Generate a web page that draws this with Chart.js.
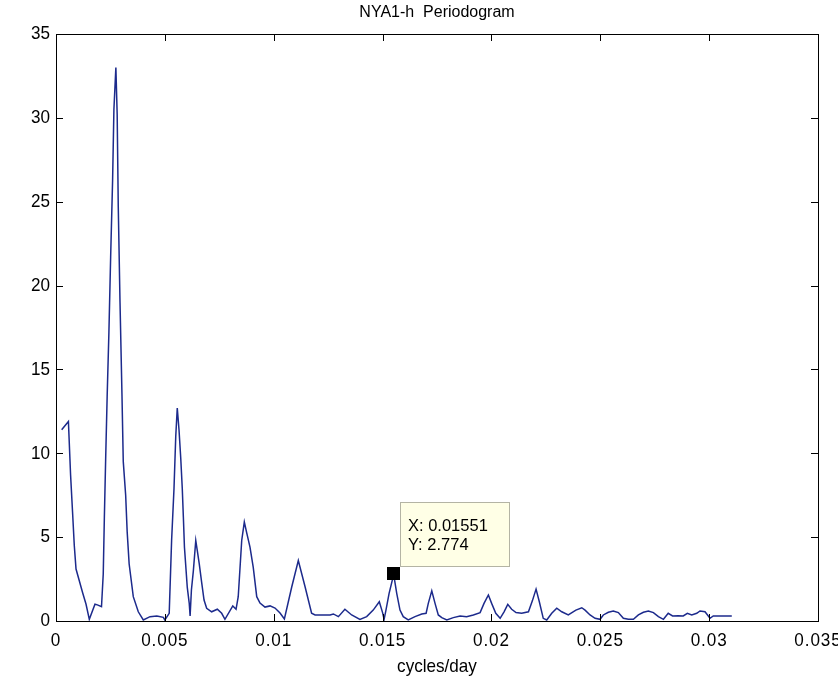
<!DOCTYPE html>
<html>
<head>
<meta charset="utf-8">
<script src="https://cdn.jsdelivr.net/npm/chart.js@4.4.1/dist/chart.umd.min.js"></script>
<style>
  html, body { margin: 0; padding: 0; background: #fff; }
  #wrap { width: 838px; height: 685px; }
</style>
</head>
<body>
<div id="wrap"><canvas id="periodogram" width="838" height="685"></canvas></div>
<script>
// NYA1-h periodogram: power against frequency (cycles/day)
const freq = [
  0.00026, 0.00057, 0.00067, 0.00076, 0.00084, 0.00092, 0.00107, 0.00122, 0.00138, 0.00153,
  0.00179, 0.00190, 0.00209, 0.00217, 0.00222, 0.00228, 0.00235, 0.00243, 0.00251, 0.00260,
  0.00266, 0.00275, 0.00281, 0.00286, 0.00294, 0.00303, 0.00309, 0.00320, 0.00327, 0.00336,
  0.00355, 0.00378, 0.00401, 0.00432, 0.00463, 0.00493, 0.00500, 0.00520, 0.00531, 0.00542,
  0.00550, 0.00557, 0.00565, 0.00573, 0.00580, 0.00585, 0.00590, 0.00603, 0.00612, 0.00616,
  0.00622, 0.00631, 0.00642, 0.00649, 0.00658, 0.00669, 0.00680, 0.00692, 0.00715, 0.00741,
  0.00761, 0.00776, 0.00812, 0.00827, 0.00837, 0.00853, 0.00865, 0.00876, 0.00891, 0.00906,
  0.00922, 0.00937, 0.00960, 0.00983, 0.01006, 0.01029, 0.01049, 0.01083, 0.01113, 0.01144,
  0.01174, 0.01190, 0.01259, 0.01274, 0.01297, 0.01327, 0.01358, 0.01396, 0.01427, 0.01457,
  0.01485, 0.01500, 0.01507, 0.01514, 0.01530, 0.01551, 0.01565, 0.01580, 0.01595, 0.01618,
  0.01649, 0.01680, 0.01700, 0.01710, 0.01726, 0.01741, 0.01756, 0.01772, 0.01795, 0.01825,
  0.01856, 0.01886, 0.01917, 0.01948, 0.01966, 0.01986, 0.02001, 0.02020, 0.02040, 0.02058,
  0.02075, 0.02093, 0.02113, 0.02139, 0.02170, 0.02188, 0.02205, 0.02220, 0.02238, 0.02254,
  0.02277, 0.02300, 0.02323, 0.02353, 0.02388, 0.02415, 0.02430, 0.02453, 0.02476, 0.02499,
  0.02514, 0.02537, 0.02560, 0.02583, 0.02606, 0.02629, 0.02652, 0.02675, 0.02698, 0.02721,
  0.02744, 0.02767, 0.02790, 0.02812, 0.02832, 0.02858, 0.02881, 0.02900, 0.02920, 0.02943,
  0.02958, 0.02981, 0.03004, 0.03019, 0.03104
];
const power = [
  11.4, 11.9, 8.7, 6.5, 4.5, 3.1, 2.4, 1.7, 1.0, 0.1,
  1.0, 0.96, 0.85, 2.8, 6.1, 9.6, 13.4, 17.2, 21.7, 26.3,
  30.5, 33.0, 30.2, 24.7, 19.0, 13.5, 9.5, 7.5, 5.3, 3.4,
  1.45, 0.55, 0.06, 0.26, 0.3, 0.22, 0.06, 0.46, 4.8, 7.9,
  11.0, 12.7, 11.4, 9.7, 7.9, 6.2, 4.4, 2.0, 1.05, 0.3,
  1.85, 3.0, 4.8, 4.2, 3.4, 2.3, 1.25, 0.76, 0.55, 0.7,
  0.46, 0.1, 0.9, 0.7, 1.45, 4.8, 5.9, 5.25, 4.4, 3.2,
  1.45, 1.07, 0.83, 0.9, 0.77, 0.48, 0.12, 2.04, 3.6, 2.04,
  0.46, 0.36, 0.36, 0.42, 0.26, 0.7, 0.36, 0.1, 0.26, 0.65,
  1.15, 0.5, 0.1, 0.55, 1.65, 2.774, 1.65, 0.65, 0.26, 0.06,
  0.26, 0.42, 0.46, 1.05, 1.8, 1.05, 0.36, 0.2, 0.06, 0.2,
  0.3, 0.26, 0.36, 0.5, 1.05, 1.55, 1.05, 0.46, 0.16, 0.55,
  0.99, 0.7, 0.5, 0.46, 0.55, 1.2, 1.9, 1.15, 0.16, 0.06,
  0.46, 0.76, 0.55, 0.36, 0.65, 0.79, 0.65, 0.36, 0.16, 0.1,
  0.36, 0.52, 0.6, 0.5, 0.16, 0.1, 0.1, 0.36, 0.52, 0.6,
  0.5, 0.26, 0.1, 0.46, 0.3, 0.32, 0.3, 0.46, 0.36, 0.46,
  0.6, 0.55, 0.16, 0.3, 0.3
];

const xTicks = [0, 0.005, 0.01, 0.015, 0.02, 0.025, 0.03, 0.035];
const xTickLabels = ['0', '0.005', '0.01', '0.015', '0.02', '0.025', '0.03', '0.035'];
const yTicks = [0, 5, 10, 15, 20, 25, 30, 35];
const yTickLabels = ['0', '5', '10', '15', '20', '25', '30', '35'];

// data cursor sits on this sample
const tipIndex = freq.indexOf(0.01551);

const TICK_FONT = '19px "Liberation Sans", Arial, sans-serif';
const TIP_FONT = '16.5px "Liberation Sans", Arial, sans-serif';

const matlabAxes = {
  id: 'matlabAxes',
  afterDatasetsDraw(chart) {
    const { ctx, chartArea: a, scales: { x, y } } = chart;
    const tick = 7;
    ctx.save();
    ctx.strokeStyle = '#000';
    ctx.fillStyle = '#000';
    ctx.lineWidth = 1;

    // box
    ctx.strokeRect(Math.round(a.left) + 0.5, Math.round(a.top) + 0.5,
      Math.round(a.right - a.left), Math.round(a.bottom - a.top));

    // inward ticks, bottom/top and left/right
    ctx.beginPath();
    xTicks.forEach(v => {
      const px = Math.round(x.getPixelForValue(v)) + 0.5;
      ctx.moveTo(px, a.bottom); ctx.lineTo(px, a.bottom - tick);
      ctx.moveTo(px, a.top); ctx.lineTo(px, a.top + tick);
    });
    yTicks.forEach(v => {
      const py = Math.round(y.getPixelForValue(v)) + 0.5;
      ctx.moveTo(a.left, py); ctx.lineTo(a.left + tick, py);
      ctx.moveTo(a.right, py); ctx.lineTo(a.right - tick, py);
    });
    ctx.stroke();

    // tick labels, a little condensed
    ctx.font = TICK_FONT;
    ctx.textBaseline = 'middle';
    xTicks.forEach((v, i) => {
      ctx.save();
      ctx.translate(x.getPixelForValue(v), a.bottom + 20);
      ctx.scale(0.9, 1);
      ctx.textAlign = 'center';
      ctx.letterSpacing = '1px';
      ctx.fillText(xTickLabels[i], 0, 0);
      ctx.restore();
    });
    yTicks.forEach((v, i) => {
      ctx.save();
      ctx.translate(a.left - 6, y.getPixelForValue(v));
      ctx.scale(0.9, 1);
      ctx.textAlign = 'right';
      ctx.fillText(yTickLabels[i], 0, 0);
      ctx.restore();
    });

    // title and x label
    const cx = (a.left + a.right) / 2;
    ctx.textAlign = 'center';
    ctx.textBaseline = 'middle';
    ctx.font = '16px "Liberation Sans", Arial, sans-serif';
    ctx.fillText('NYA1-h  Periodogram', cx, 13);
    ctx.save();
    ctx.translate(cx, 667);
    ctx.scale(0.9, 1);
    ctx.font = '19px "Liberation Sans", Arial, sans-serif';
    ctx.fillText('cycles/day', 0, 0);
    ctx.restore();

    // data cursor marker and its readout box
    const mx = x.getPixelForValue(freq[tipIndex]);
    const my = y.getPixelForValue(power[tipIndex]);
    ctx.fillRect(Math.round(mx) - 7, Math.round(my) - 7, 13, 13);
    const bx = Math.round(mx) + 6, by = Math.round(my) - 72, bw = 109, bh = 64;
    ctx.fillStyle = '#ffffe6';
    ctx.fillRect(bx, by, bw, bh);
    ctx.strokeStyle = '#b4b4a4';
    ctx.strokeRect(bx + 0.5, by + 0.5, bw, bh);
    ctx.fillStyle = '#000';
    ctx.font = TIP_FONT;
    ctx.textAlign = 'left';
    ctx.fillText('X: ' + freq[tipIndex], bx + 8, by + 24);
    ctx.fillText('Y: ' + power[tipIndex], bx + 8, by + 43);
    ctx.restore();
  }
};

new Chart(document.getElementById('periodogram'), {
  type: 'scatter',
  data: {
    datasets: [{
      data: freq.map((f, i) => ({ x: f, y: power[i] })),
      showLine: true,
      borderColor: '#1c2a8c',
      borderWidth: 1.5,
      pointRadius: 0,
      tension: 0
    }]
  },
  options: {
    responsive: false,
    devicePixelRatio: 1,
    animation: false,
    layout: { padding: { left: 56, right: 20, top: 34, bottom: 64 } },
    plugins: { legend: { display: false }, tooltip: { enabled: false } },
    scales: {
      x: { type: 'linear', min: 0, max: 0.035, display: false },
      y: { type: 'linear', min: 0, max: 35, display: false }
    }
  },
  plugins: [matlabAxes]
});
</script>
</body>
</html>
